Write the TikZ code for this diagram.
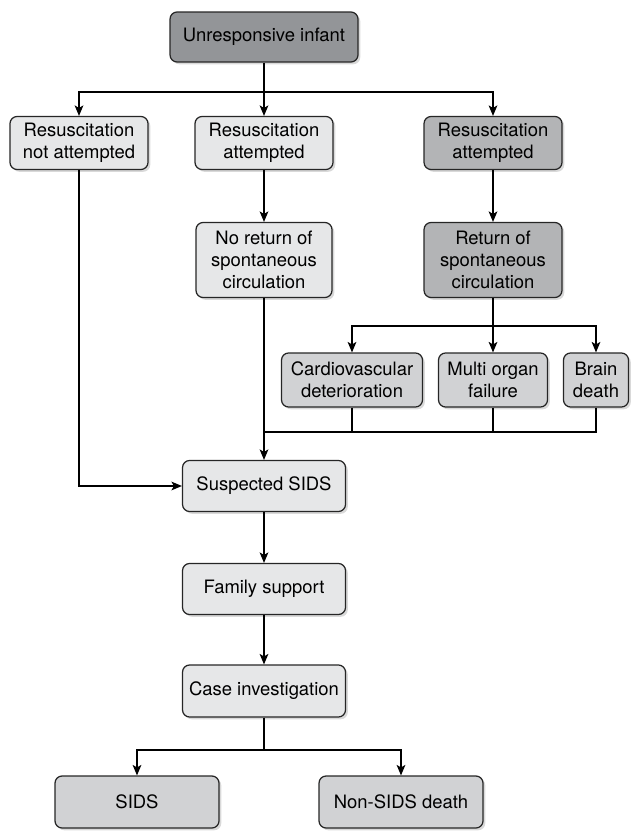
\documentclass[tikz,border=0pt]{standalone}
\usepackage{fontspec}
\setmainfont{TeX Gyre Heros}
\usetikzlibrary{arrows.meta,shadows}
\definecolor{topgray}{HTML}{939598}
\definecolor{midgray}{HTML}{B3B4B6}
\definecolor{lightgray}{HTML}{E6E7E8}
\definecolor{palegray}{HTML}{D1D2D4}

\begin{document}
\begin{tikzpicture}[x=0.02cm,y=-0.02cm,
    box/.style={draw=black!85, line width=0.7pt, rounded corners=4pt,
      align=center, inner sep=1pt, font=\fontsize{10.5}{12.5}\selectfont,
      drop shadow={shadow xshift=1.3pt, shadow yshift=-1.3pt, opacity=0.3}},
    link/.style={line width=0.6pt, -{Stealth[length=6pt,width=5pt,inset=1.5pt]}},
    line/.style={line width=0.6pt}]
  \useasboundingbox (0,0) rectangle (639,831);

  % top
  \node[box, fill=topgray, minimum width=3.76cm, minimum height=1cm] (infant) at (264,37) {Unresponsive infant};

  % first split
  \node[box, fill=lightgray, minimum width=2.76cm, minimum height=1.06cm] (notatt) at (79,143) {Resuscitation\\not attempted};
  \node[box, fill=lightgray, minimum width=2.76cm, minimum height=1.06cm] (attleft) at (264,143) {Resuscitation\\attempted};
  \node[box, fill=midgray, minimum width=2.76cm, minimum height=1.06cm] (attright) at (493,143) {Resuscitation\\attempted};

  \node[box, fill=lightgray, minimum width=2.72cm, minimum height=1.5cm] (noreturn) at (264,260) {No return of\\spontaneous\\circulation};
  \node[box, fill=midgray, minimum width=2.76cm, minimum height=1.5cm] (return) at (493,260) {Return of\\spontaneous\\circulation};

  % outcomes after return
  \node[box, fill=palegray, minimum width=2.82cm, minimum height=1.08cm] (cardio) at (352,380) {Cardiovascular\\deterioration};
  \node[box, fill=palegray, minimum width=2.18cm, minimum height=1.08cm] (organ) at (493,380) {Multi organ\\failure};
  \node[box, fill=palegray, minimum width=1.3cm, minimum height=1.08cm] (brain) at (596,380) {Brain\\death};

  % main line
  \node[box, fill=lightgray, minimum width=3.26cm, minimum height=1.02cm] (suspect) at (264,486) {Suspected SIDS};
  \node[box, fill=lightgray, minimum width=3.26cm, minimum height=1.02cm] (family) at (264,589) {Family support};
  \node[box, fill=lightgray, minimum width=3.26cm, minimum height=1.04cm] (caseinv) at (264,691) {Case investigation};

  \node[box, fill=palegray, minimum width=3.28cm, minimum height=1.04cm] (sids) at (137,802) {SIDS};
  \node[box, fill=palegray, minimum width=3.28cm, minimum height=1.04cm] (nonsids) at (401,802) {Non-SIDS death};

  \coordinate (split1) at (264,92);
  \coordinate (split2) at (493,326);
  \coordinate (merge) at (264,432);
  \coordinate (split3) at (264,750);

  \draw[line] (infant) -- (split1);
  \draw[link] (split1) -| (notatt.north);
  \draw[link] (split1) -- (attleft);
  \draw[link] (split1) -| (attright.north);

  \draw[link] (attleft) -- (noreturn);
  \draw[link] (attright) -- (return);

  \draw[line] (return) -- (split2);
  \draw[link] (split2) -| (cardio.north);
  \draw[link] (split2) -- (organ);
  \draw[link] (split2) -| (brain.north);

  \draw[line] (cardio.south) |- (merge);
  \draw[line] (organ.south) |- (merge);
  \draw[line] (brain.south) |- (merge);
  \draw[link] (noreturn) -- (suspect);
  \draw[link] (notatt.south) |- (suspect.west);

  \draw[link] (suspect) -- (family);
  \draw[link] (family) -- (caseinv);

  \draw[line] (caseinv) -- (split3);
  \draw[link] (split3) -| (sids.north);
  \draw[link] (split3) -| (nonsids.north);
\end{tikzpicture}
\end{document}
